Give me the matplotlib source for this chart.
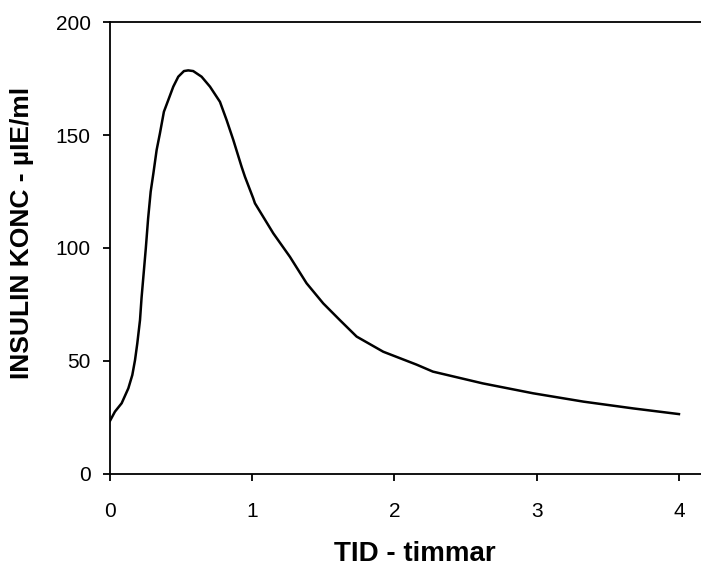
import matplotlib
matplotlib.use('Agg')
import matplotlib.pyplot as plt

# insulin concentration curve
tid = [0.0, 0.035, 0.082, 0.129, 0.157, 0.176, 0.192, 0.211, 0.222, 0.237,
       0.252, 0.268, 0.286, 0.305, 0.328, 0.351, 0.379, 0.41, 0.445,
       0.48, 0.52, 0.55, 0.585, 0.644, 0.703, 0.773, 0.82, 0.867, 0.925,
       0.949, 1.007, 1.019, 1.148, 1.265, 1.382, 1.499, 1.616, 1.734, 1.921,
       2.04, 2.155, 2.27, 2.62, 2.975, 3.33, 3.68, 4.0]
konc = [23.5, 27.6, 31.3, 37.9, 43.8, 50.4, 57.8, 68.1, 78, 89,
        100, 113, 124.9, 133, 143.4, 150.7, 160.3, 165.5, 171.4,
        175.8, 178.3, 178.6, 178.3, 175.8, 171.4, 164.7, 156.6, 147.8, 136,
        131.5, 122, 119.8, 106.5, 96.1, 84.4, 75.5, 68.1, 60.8, 54.1,
        51.2, 48.4, 45.3, 40.1, 35.7, 32, 29, 26.5]

xticks = [0, 1, 2, 3, 4]
yticks = [0, 50, 100, 150, 200]

plt.rcParams['font.family'] = ['Liberation Sans', 'DejaVu Sans']

fig = plt.figure(figsize=(7.01, 5.69), dpi=100)
ax = fig.add_axes([0.1569, 0.167, 0.8431, 0.7943])

ax.plot(tid, konc, color='black', lw=1.8, solid_joinstyle='round')

ax.set_xlim(0, 4.155)
ax.set_ylim(0, 200)
ax.set_xticks(xticks)
ax.set_yticks(yticks)
ax.spines['right'].set_visible(False)
for s in ['left', 'bottom', 'top']:
    ax.spines[s].set_linewidth(1.3)
ax.tick_params(axis='both', direction='out', length=5, width=1.3, labelsize=15)
ax.tick_params(axis='x', pad=15)
ax.tick_params(axis='y', pad=9)

ax.set_xlabel('TID - timmar', fontsize=20, fontweight='bold', va='center')
ax.set_ylabel('INSULIN KONC - µIE/ml', fontsize=19, fontweight='bold', va='center')
ax.xaxis.set_label_coords(0.516, -0.177)
ax.yaxis.set_label_coords(-0.149, 0.533)

fig.savefig('out.png', dpi=100)
